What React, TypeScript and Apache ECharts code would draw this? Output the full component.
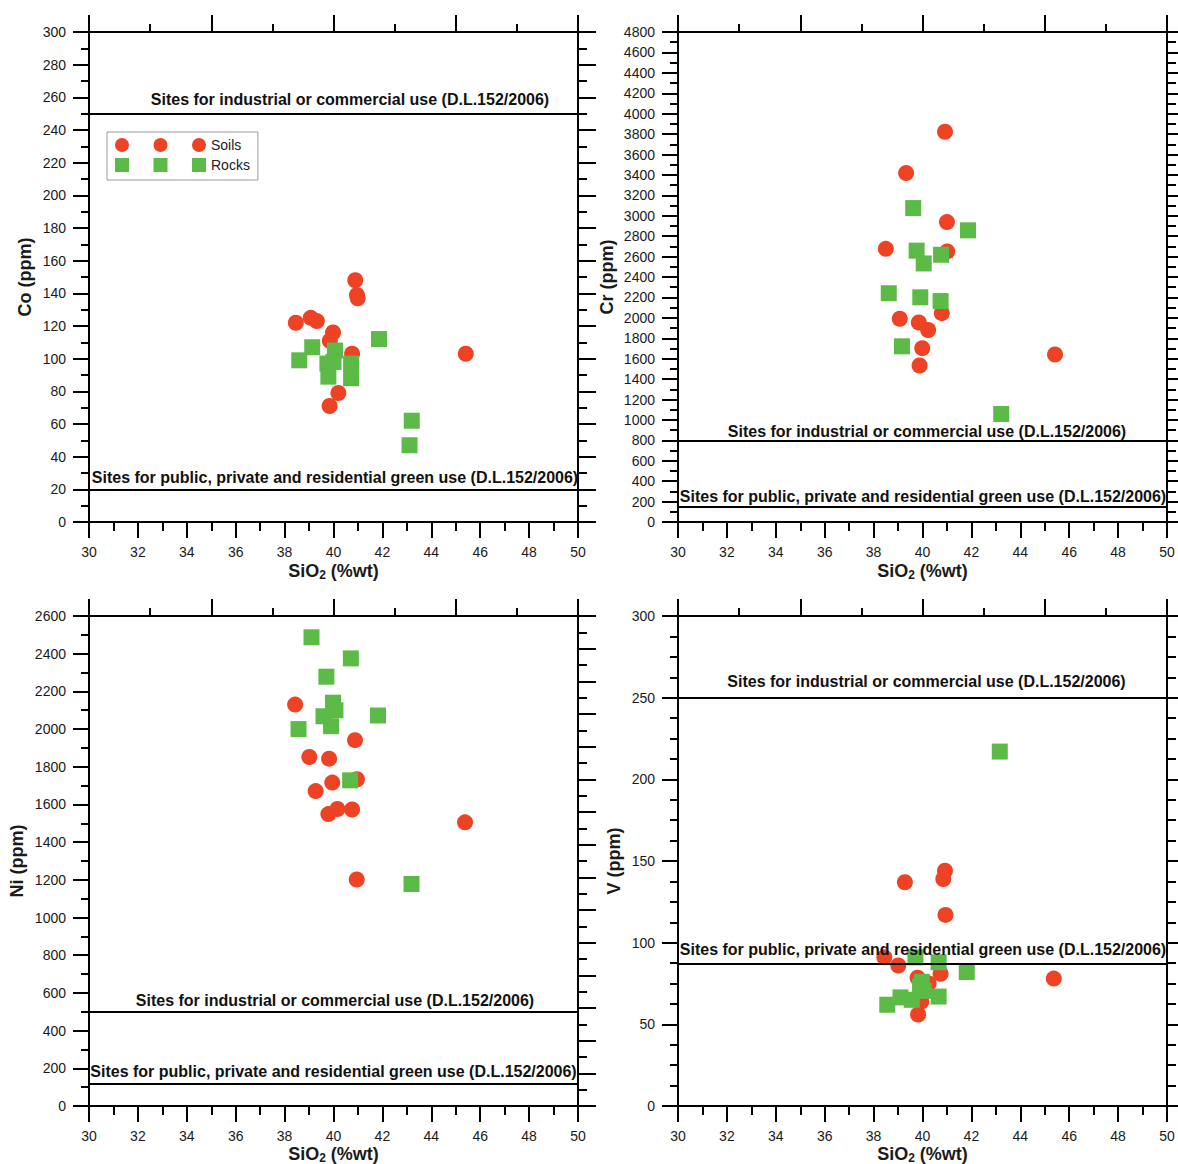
import { useEffect, useRef } from "react";
import * as echarts from "echarts";

const FONT = "'Liberation Sans', Arial, Helvetica, sans-serif";
const RED = "#ee4224";
const GREEN = "#5cba47";
const INK = "#1a1a1a";

// ---- Data (SiO2 %wt vs trace element ppm) ----
const coSoilsSiO2 = [38.46, 39.07, 39.32, 39.98, 39.85, 40.89, 40.96, 40.99, 40.76, 40.2, 39.84, 45.41];
const coSoils = [122, 125, 123, 116, 111, 148, 139, 137, 103, 79, 71, 103];
const coRocksSiO2 = [38.6, 39.13, 39.75, 39.79, 40.06, 40.0, 40.72, 40.72, 41.86, 43.2, 43.11];
const coRocks = [99, 107, 97, 89, 105, 98, 97, 88, 112, 62, 47];

const crSoilsSiO2 = [40.92, 39.33, 41.0, 38.5, 41.01, 40.79, 39.07, 39.85, 40.23, 39.99, 39.88, 45.42];
const crSoils = [3823, 3418, 2938, 2676, 2651, 2046, 1991, 1954, 1881, 1703, 1533, 1641];
const crRocksSiO2 = [39.62, 41.86, 39.76, 40.76, 40.05, 38.62, 39.91, 40.74, 39.16, 43.22];
const crRocks = [3075, 2857, 2658, 2618, 2533, 2241, 2201, 2164, 1721, 1058];

const niSoilsSiO2 = [38.43, 39.01, 39.82, 40.88, 40.96, 39.95, 39.27, 39.79, 40.16, 40.76, 45.38, 40.95];
const niSoils = [2130, 1852, 1843, 1941, 1734, 1716, 1671, 1549, 1576, 1573, 1505, 1202];
const niRocksSiO2 = [39.1, 40.71, 39.71, 39.98, 40.08, 39.59, 39.9, 38.57, 41.82, 40.68, 43.19];
const niRocks = [2487, 2375, 2278, 2140, 2100, 2068, 2015, 2000, 2072, 1728, 1178];

const vSoilsSiO2 = [40.92, 40.85, 39.28, 40.94, 38.44, 39.01, 39.8, 40.74, 40.25, 45.37, 39.82, 39.95];
const vSoils = [144, 139, 137, 117, 91, 86, 78.5, 81, 75, 78, 56, 64];
const vRocksSiO2 = [43.16, 39.71, 40.66, 41.81, 38.56, 39.1, 39.56, 40.66, 39.97, 40.05, 39.9];
const vRocks = [217, 91, 88, 82, 62, 66.5, 65, 67, 76, 70.5, 73];

// Regulatory limits (industrial, public/residential)
const coLimits = [250, 20];
const crLimits = [800, 150];
const niLimits = [500, 120];
const vLimits = [250, 87];
const limitTexts = [
  "Sites for industrial or commercial use (D.L.152/2006)",
  "Sites for public, private and residential green use (D.L.152/2006)",
];

const xMin = 30;
const xMax = 50;

// ---- Layout / style per panel ----
const panels = [
  {
    yName: "Co (ppm)", yMax: 300, yInt: 20, ySplit: 2, rMax: 300, rInt: 20, rSplit: 2,
    soils: [coSoilsSiO2, coSoils], rocks: [coRocksSiO2, coRocks], limits: coLimits,
    grid: { left: 89, top: 32 }, nameGap: 55, xNameGap: 39, labelDist: [6, 4], labelShift: [33, 3],
  },
  {
    yName: "Cr (ppm)", yMax: 4800, yInt: 200, ySplit: 2, rMax: 4800, rInt: 200, rSplit: 2,
    soils: [crSoilsSiO2, crSoils], rocks: [crRocksSiO2, crRocks], limits: crLimits,
    grid: { left: 678, top: 32 }, nameGap: 62, xNameGap: 39, labelDist: [1, 2], labelShift: [9, 1],
  },
  {
    yName: "Ni (ppm)", yMax: 2600, yInt: 200, ySplit: 2, rMax: 3000, rInt: 200, rSplit: 2,
    soils: [niSoilsSiO2, niSoils], rocks: [niRocksSiO2, niRocks], limits: niLimits,
    grid: { left: 89, top: 616 }, nameGap: 63, xNameGap: 37, labelDist: [3, 3.5], labelShift: [3, 0],
  },
  {
    yName: "V (ppm)", yMax: 300, yInt: 50, ySplit: 4, rMax: 300, rInt: 50, rSplit: 4,
    soils: [vSoilsSiO2, vSoils], rocks: [vRocksSiO2, vRocks], limits: vLimits,
    grid: { left: 678, top: 616 }, nameGap: 55, xNameGap: 37, labelDist: [8, 6], labelShift: [8, 1],
  },
];

const zip = (xs: number[], ys: number[]) => xs.map((x, i) => [x, ys[i]]);

const circlesIcon =
  "path://M0,7a7,7 0 1,0 14,0a7,7 0 1,0 -14,0Z M38.5,7a7,7 0 1,0 14,0a7,7 0 1,0 -14,0Z M77,7a7,7 0 1,0 14,0a7,7 0 1,0 -14,0Z";
const squaresIcon =
  "path://M0,0L14,0L14,14L0,14Z M38.5,0L52.5,0L52.5,14L38.5,14Z M77,0L91,0L91,14L77,14Z";

const line = { color: "#000", width: 2 };
const plain = (v: number) => String(v);

function buildOption() {
  const grid: any[] = [];
  const xAxis: any[] = [];
  const yAxis: any[] = [];
  const series: any[] = [];

  panels.forEach((p, i) => {
    grid.push({
      left: p.grid.left,
      top: p.grid.top,
      width: 489,
      height: 490,
      outerBoundsMode: "none",
      containLabel: false,
    });
    // bottom x axis
    xAxis.push({
      type: "value", gridIndex: i, position: "bottom", min: xMin, max: xMax, interval: 2,
      axisLine: { show: true, onZero: false, lineStyle: line },
      axisTick: { show: true, length: 16, lineStyle: line },
      minorTick: { show: true, splitNumber: 2, length: 9, lineStyle: line },
      splitLine: { show: false },
      axisLabel: { margin: 23, fontFamily: FONT, fontSize: 14, color: INK, formatter: plain },
      name: "{a|SiO}{b|2}{a| (%wt)}",
      nameLocation: "middle",
      nameGap: p.xNameGap,
      nameTextStyle: {
        fontFamily: FONT,
        rich: {
          a: { fontFamily: FONT, fontSize: 18, fontWeight: "bold", color: INK, lineHeight: 20 },
          b: { fontFamily: FONT, fontSize: 12, fontWeight: "bold", color: INK, lineHeight: 20, padding: [8, 0, 0, 0] },
        },
      },
    });
    // top x axis (ticks only)
    xAxis.push({
      type: "value", gridIndex: i, position: "top", min: xMin, max: xMax, interval: 5,
      axisLine: { show: true, onZero: false, lineStyle: line },
      axisTick: { show: true, length: 17, lineStyle: line },
      minorTick: { show: true, splitNumber: 2, length: 8, lineStyle: line },
      splitLine: { show: false },
      axisLabel: { show: false },
    });
    // left y axis
    yAxis.push({
      type: "value", gridIndex: i, position: "left", min: 0, max: p.yMax, interval: p.yInt,
      axisLine: { show: true, onZero: false, lineStyle: line },
      axisTick: { show: true, length: 16, lineStyle: line },
      minorTick: { show: true, splitNumber: p.ySplit, length: 8, lineStyle: line },
      splitLine: { show: false },
      axisLabel: { margin: 23, fontFamily: FONT, fontSize: 14, color: INK, formatter: plain },
      name: p.yName,
      nameLocation: "middle",
      nameGap: p.nameGap,
      nameTextStyle: { fontFamily: FONT, fontSize: 18, fontWeight: "bold", color: INK },
    });
    // right y axis (ticks only)
    yAxis.push({
      type: "value", gridIndex: i, position: "right", min: 0, max: p.rMax, interval: p.rInt,
      axisLine: { show: true, onZero: false, lineStyle: line },
      axisTick: { show: true, length: 18, lineStyle: line },
      minorTick: { show: true, splitNumber: p.rSplit, length: 9, lineStyle: line },
      splitLine: { show: false },
      axisLabel: { show: false },
    });

    series.push({
      type: "scatter",
      name: "Soils",
      xAxisIndex: 2 * i,
      yAxisIndex: 2 * i,
      data: zip(p.soils[0], p.soils[1]),
      symbol: "circle",
      symbolSize: 16,
      itemStyle: { color: RED, opacity: 1 },
      emphasis: { disabled: true },
      z: 2,
    });
    series.push({
      type: "scatter",
      name: "Rocks",
      xAxisIndex: 2 * i,
      yAxisIndex: 2 * i,
      data: zip(p.rocks[0], p.rocks[1]),
      symbol: "rect",
      symbolSize: 16,
      itemStyle: { color: GREEN, opacity: 1 },
      emphasis: { disabled: true },
      z: 3,
      markLine: {
        silent: true,
        symbol: ["none", "none"],
        animation: false,
        z: 10,
        lineStyle: { color: "#000", width: 2, type: "solid" },
        emphasis: { disabled: true },
        label: {
          show: true,
          position: "insideMiddleTop",
          fontFamily: FONT,
          fontSize: 16,
          fontWeight: "bold",
          color: "#111",
        },
        data: p.limits.map((v, k) => ({
          yAxis: v,
          label: {
            formatter: limitTexts[k],
            distance: p.labelDist[k],
            padding: [0, 0, 0, p.labelShift[k]],
          },
        })),
      },
    });
  });

  return {
    animation: false,
    backgroundColor: "#fff",
    textStyle: { fontFamily: FONT },
    legend: {
      show: true,
      orient: "vertical",
      left: 107,
      top: 132,
      selectedMode: false,
      data: [
        { name: "Soils", icon: circlesIcon },
        { name: "Rocks", icon: squaresIcon },
      ],
      itemWidth: 91,
      itemHeight: 14,
      itemGap: 6,
      padding: [6, 8, 8, 8],
      borderColor: "#9a9a9a",
      borderWidth: 1,
      textStyle: { fontFamily: FONT, fontSize: 14, color: "#222" },
    },
    grid,
    xAxis,
    yAxis,
    series,
  };
}

export default function App() {
  const ref = useRef<HTMLDivElement>(null);
  useEffect(() => {
    if (!ref.current) return;
    const chart = echarts.init(ref.current, undefined, { renderer: "svg" });
    chart.setOption(buildOption() as any);
    return () => chart.dispose();
  }, []);
  return (
    <div
      ref={ref}
      style={{ position: "fixed", left: 0, top: 0, width: 1178, height: 1164, background: "#fff" }}
    />
  );
}
